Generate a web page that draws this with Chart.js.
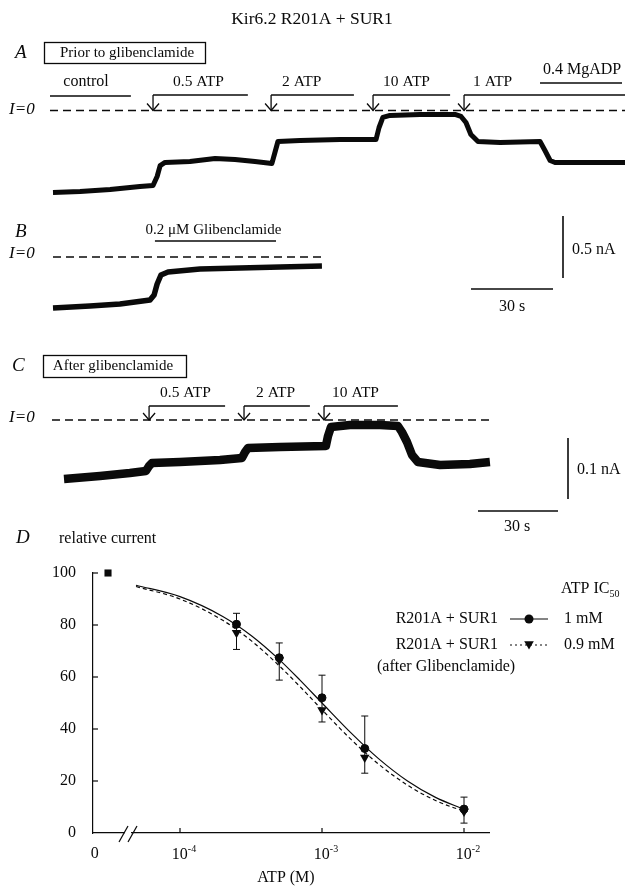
<!DOCTYPE html>
<html><head><meta charset="utf-8">
<script src="https://cdn.jsdelivr.net/npm/chart.js@4.4.0/dist/chart.umd.min.js"></script>
<style>
html,body{margin:0;padding:0;background:#fff;}
body{width:625px;height:888px;position:relative;overflow:hidden;}
canvas{position:absolute;left:0;}
</style></head><body>
<canvas id="cA" width="625" height="200" style="top:0px"></canvas>
<canvas id="cB" width="625" height="120" style="top:200px"></canvas>
<canvas id="cC" width="625" height="225" style="top:320px"></canvas>
<canvas id="cD" width="625" height="368" style="top:520px"></canvas>
<script>
// ================= DATA =================
const titleText = 'Kir6.2 R201A + SUR1';

// Panel A: current trace (time in s, current in nA)
const traceA_t = [0, 9.9, 20.9, 31.8, 36.6, 38.1, 39.2, 41.0, 50.1, 59.3, 66.6, 73.9, 80.1, 81.2, 82.3, 90.4, 105.0, 118.2, 119.3, 120.7, 123.3, 134.3, 147.1, 149.3, 151.1, 152.9, 155.5, 163.6, 178.2, 180.0, 181.9, 183.7, 196.5, 209.3];
const traceA_I = [-0.661, -0.653, -0.637, -0.613, -0.605, -0.532, -0.444, -0.419, -0.411, -0.387, -0.395, -0.411, -0.427, -0.339, -0.250, -0.242, -0.234, -0.234, -0.137, -0.056, -0.040, -0.032, -0.032, -0.048, -0.097, -0.194, -0.250, -0.258, -0.250, -0.323, -0.403, -0.419, -0.419, -0.419];
const solA_labels = ['0.5 ATP', '2 ATP', '10 ATP', '1 ATP'];
const solA_start = [36.6, 79.8, 117.1, 150.4];
const solA_end = [71.3, 110.1, 145.3, 209.3];
const controlA = [-1.1, 28.5];
const mgadpA = [178.2, 208.2];
const zeroA = [-1.1, 209.3];

// Panel B
const traceB_t = [0, 13.5, 24.5, 35.5, 37.0, 38.1, 39.5, 42.1, 53.8, 68.4, 83.1, 98.4];
const traceB_I = [-0.411, -0.395, -0.379, -0.347, -0.306, -0.218, -0.145, -0.121, -0.097, -0.089, -0.081, -0.073];
const glibB = [37.3, 81.6];
const zeroB = [0, 98.4];

// Panel C
const traceC_t = [0, 13.5, 24.7, 30.7, 31.9, 33.0, 43.5, 58.5, 66.7, 67.9, 69.0, 81.0, 98.2, 99.0, 100.1, 107.2, 118.5, 125.2, 126.7, 128.6, 130.5, 132.7, 141.0, 152.2, 159.7];
const traceC_I = [-0.0967, -0.0918, -0.0869, -0.0836, -0.0754, -0.0705, -0.0689, -0.0656, -0.0623, -0.0525, -0.0459, -0.0443, -0.0426, -0.0262, -0.0115, -0.0082, -0.0082, -0.0098, -0.0197, -0.0361, -0.0574, -0.0689, -0.0738, -0.0721, -0.0689];
const solC_labels = ['0.5 ATP', '2 ATP', '10 ATP'];
const solC_start = [31.9, 67.5, 97.5];
const solC_end = [60.4, 92.2, 125.2];
const zeroC = [-4.5, 159.7];

// scale bars
const barTime = 30;        // s
const barCurrentAB = 0.5;  // nA
const barCurrentC = 0.1;   // nA

// Panel D: dose-response
const atpConc = [2.5e-4, 5e-4, 1e-3, 2e-3, 1e-2];            // M
const relBefore = [80.3, 67.4, 52.0, 32.5, 9.2];
const relAfter = [77.0, 66.5, 47.3, 29.0, 8.3];
const errTopBefore = [84.5, 73.1, 60.7, 45.0, 13.8];
const errBottomAfter = [70.6, 58.8, 42.7, 23.0, 3.8];
const controlRel = [100];
const fitConc = [4.9e-5, 1e-4, 2e-4, 3.2e-4, 5e-4, 7e-4, 1e-3, 1.6e-3, 2.5e-3, 4e-3, 6.3e-3, 1e-2];
const fitBefore = [95.3, 90.9, 83.3, 75.8, 66.7, 58.8, 50.0, 38.5, 28.6, 20.0, 13.7, 9.1];
const fitAfter = [94.8, 90.0, 81.8, 73.8, 64.3, 56.3, 47.4, 36.0, 26.5, 18.4, 12.5, 8.3];
const legendNames = ['R201A + SUR1', 'R201A + SUR1'];
const ic50Labels = ['1 mM', '0.9 mM'];
const yTicks = [0, 20, 40, 60, 80, 100];
const xTickExp = [-4, -3, -2];

// ================= LAYOUT / STYLE =================
const FONT = '"Liberation Serif", "Times New Roman", serif';
const INK = '#0a0a0a';
const LA = {x0: 53, pxPerSec: 2.733, yZero: 110.5, pxPerNA: 124, height: 200};
const LB = {x0: 53, pxPerSec: 2.733, yZero: 57, pxPerNA: 124, height: 120};
const LC = {x0: 64, pxPerSec: 2.667, yZero: 100, pxPerNA: 610, height: 225};
const LOG_MIN = -4.6127, LOG_MAX = -1.824;
const ZERO_POINT_X = -4.507, ZERO_LABEL_X = -4.6;

function T(ctx, s, x, y, size, align, style) {
  ctx.font = (style ? style + ' ' : '') + size + 'px ' + FONT;
  ctx.textAlign = align || 'left';
  ctx.textBaseline = 'middle';
  ctx.fillStyle = INK;
  ctx.fillText(s, x, y);
  return ctx.measureText(s).width;
}
function Ln(ctx, x1, y1, x2, y2, w) {
  ctx.lineWidth = w || 1.2; ctx.strokeStyle = INK; ctx.setLineDash([]);
  ctx.beginPath(); ctx.moveTo(x1, y1); ctx.lineTo(x2, y2); ctx.stroke();
}
function bracket(ctx, x1, x2, yb, ytip) {
  Ln(ctx, x1, yb, x2, yb, 1.3);
  Ln(ctx, x1, yb, x1, ytip, 1.3);
  ctx.beginPath(); ctx.moveTo(x1 - 6, ytip - 7); ctx.lineTo(x1, ytip); ctx.lineTo(x1 + 6, ytip - 7); ctx.stroke();
}
const xy = (ts, vs) => ts.map((t, i) => ({x: t, y: vs[i]}));

function traceChart(id, Lay, trace, zero, width, decor) {
  const W = 625, H = Lay.height;
  return new Chart(document.getElementById(id), {
    type: 'line',
    data: {datasets: [
      {data: trace, borderColor: INK, borderWidth: width, pointRadius: 0, tension: 0,
       borderJoinStyle: 'round', borderCapStyle: 'butt'},
      {data: [{x: zero[0], y: 0}, {x: zero[1], y: 0}], borderColor: INK, borderWidth: 1.3,
       borderDash: [8, 5], pointRadius: 0}
    ]},
    options: {
      responsive: false, animation: false, events: [],
      layout: {padding: 0},
      plugins: {legend: {display: false}, tooltip: {enabled: false}},
      scales: {
        x: {type: 'linear', display: false, min: -Lay.x0 / Lay.pxPerSec, max: (W - Lay.x0) / Lay.pxPerSec},
        y: {type: 'linear', display: false, min: (Lay.yZero - H) / Lay.pxPerNA, max: Lay.yZero / Lay.pxPerNA}
      }
    },
    plugins: [{id: 'decor' + id, afterDraw: decor}]
  });
}

// ---------- Panel A ----------
const labOffA = [20, 11, 10, 9];
traceChart('cA', LA, xy(traceA_t, traceA_I), zeroA, 5, (chart) => {
  const ctx = chart.ctx, xs = chart.scales.x, ys = chart.scales.y;
  const y0 = ys.getPixelForValue(0);
  ctx.save();
  T(ctx, titleText, 312, 19, 17.5, 'center');
  T(ctx, 'A', 15, 53, 19, 'left', 'italic');
  ctx.lineWidth = 1.3; ctx.strokeStyle = INK; ctx.strokeRect(44.5, 42.5, 161, 21);
  T(ctx, 'Prior to glibenclamide', 127, 53, 15, 'center');
  T(ctx, 'I=0', 9, y0 - 1, 17, 'left', 'italic');
  const c1 = xs.getPixelForValue(controlA[0]), c2 = xs.getPixelForValue(controlA[1]);
  T(ctx, 'control', 86, 82, 16, 'center');
  Ln(ctx, c1, 96, c2, 96, 1.5);
  solA_labels.forEach((lab, i) => {
    const x1 = xs.getPixelForValue(solA_start[i]), x2 = Math.min(xs.getPixelForValue(solA_end[i]), 625);
    bracket(ctx, x1, x2, 95, y0);
    T(ctx, lab, x1 + labOffA[i], 82, 15.5);
  });
  const m1 = xs.getPixelForValue(mgadpA[0]), m2 = xs.getPixelForValue(mgadpA[1]);
  Ln(ctx, m1, 83, m2, 83, 1.5);
  T(ctx, '0.4 MgADP', (m1 + m2) / 2 + 1, 70, 16, 'center');
  ctx.restore();
});

// ---------- Panel B ----------
traceChart('cB', LB, xy(traceB_t, traceB_I), zeroB, 5.5, (chart) => {
  const ctx = chart.ctx, xs = chart.scales.x, ys = chart.scales.y;
  const y0 = ys.getPixelForValue(0);
  ctx.save();
  T(ctx, 'B', 15, 32, 19, 'left', 'italic');
  T(ctx, 'I=0', 9, y0 - 3, 17, 'left', 'italic');
  const g1 = xs.getPixelForValue(glibB[0]), g2 = xs.getPixelForValue(glibB[1]);
  Ln(ctx, g1, 41, g2, 41, 1.5);
  T(ctx, '0.2 \u03BCM Glibenclamide', (g1 + g2) / 2 - 2, 30, 15, 'center');
  const lenI = Math.abs(ys.getPixelForValue(0) - ys.getPixelForValue(barCurrentAB));
  const lenT = xs.getPixelForValue(barTime) - xs.getPixelForValue(0);
  Ln(ctx, 563, 78, 563, 78 - lenI, 1.6);
  Ln(ctx, 553 - lenT, 89, 553, 89, 1.6);
  T(ctx, barCurrentAB + ' nA', 572, 50, 16);
  T(ctx, barTime + ' s', 553 - lenT / 2, 107, 16, 'center');
  ctx.restore();
});

// ---------- Panel C ----------
const labOffC = [11, 12, 8];
traceChart('cC', LC, xy(traceC_t, traceC_I), zeroC, 8.5, (chart) => {
  const ctx = chart.ctx, xs = chart.scales.x, ys = chart.scales.y;
  const y0 = ys.getPixelForValue(0);
  ctx.save();
  T(ctx, 'C', 12, 46, 19, 'left', 'italic');
  ctx.lineWidth = 1.3; ctx.strokeStyle = INK; ctx.strokeRect(43.5, 35.5, 143, 22);
  T(ctx, 'After glibenclamide', 113, 46, 15, 'center');
  T(ctx, 'I=0', 9, y0 - 2, 17, 'left', 'italic');
  solC_labels.forEach((lab, i) => {
    const x1 = xs.getPixelForValue(solC_start[i]), x2 = xs.getPixelForValue(solC_end[i]);
    bracket(ctx, x1, x2, 86, y0);
    T(ctx, lab, x1 + labOffC[i], 73, 15.5);
  });
  const lenI = Math.abs(ys.getPixelForValue(0) - ys.getPixelForValue(barCurrentC));
  const lenT = xs.getPixelForValue(barTime) - xs.getPixelForValue(0);
  Ln(ctx, 568, 179, 568, 179 - lenI, 1.6);
  Ln(ctx, 558 - lenT, 191, 558, 191, 1.6);
  T(ctx, barCurrentC + ' nA', 577, 150, 16);
  T(ctx, barTime + ' s', 558 - lenT / 2 - 1, 207, 16, 'center');
  ctx.restore();
});

// ---------- Panel D ----------
function drawMarker(ctx, kind, x, y, r) {
  ctx.fillStyle = INK; ctx.beginPath();
  if (kind === 'circle') ctx.arc(x, y, r, 0, Math.PI * 2);
  else { ctx.moveTo(x - r * 0.87, y - r * 0.5); ctx.lineTo(x + r * 0.87, y - r * 0.5); ctx.lineTo(x, y + r); ctx.closePath(); }
  ctx.fill();
}
new Chart(document.getElementById('cD'), {
  type: 'line',
  data: {datasets: [
    {data: [{x: ZERO_POINT_X, y: controlRel[0]}], showLine: false, pointStyle: 'rect', pointRadius: 5,
     pointBackgroundColor: INK, pointBorderColor: INK, pointBorderWidth: 0, clip: false},
    {data: atpConc.map((c, i) => ({x: Math.log10(c), y: relBefore[i]})), showLine: false, pointStyle: 'circle',
     pointRadius: 4, pointBackgroundColor: INK, pointBorderColor: INK, pointBorderWidth: 1, clip: false},
    {data: atpConc.map((c, i) => ({x: Math.log10(c), y: relAfter[i]})), showLine: false, pointStyle: 'triangle',
     pointRotation: 180, pointRadius: 5.5, pointBackgroundColor: INK, pointBorderColor: INK, pointBorderWidth: 0, clip: false},
    {data: fitConc.map((c, i) => ({x: Math.log10(c), y: fitBefore[i]})), borderColor: INK, borderWidth: 1.2,
     pointRadius: 0, cubicInterpolationMode: 'monotone'},
    {data: fitConc.map((c, i) => ({x: Math.log10(c), y: fitAfter[i]})), borderColor: INK, borderWidth: 1.2,
     borderDash: [4, 3], pointRadius: 0, cubicInterpolationMode: 'monotone'}
  ]},
  options: {
    responsive: false, animation: false, events: [],
    layout: {padding: {top: 53, right: 136, left: 0, bottom: 0}},
    plugins: {legend: {display: false}, tooltip: {enabled: false}},
    scales: {
      x: {type: 'linear', min: LOG_MIN, max: LOG_MAX,
          ticks: {display: false},
          grid: {display: true, drawOnChartArea: false, drawTicks: false},
          border: {display: true, color: INK, width: 1.2},
          afterFit: (s) => { s.height = 55; }},
      y: {type: 'linear', min: 0, max: 100,
          afterBuildTicks: (s) => { s.ticks = yTicks.map(v => ({value: v})); },
          ticks: {color: INK, padding: 17, font: {family: FONT, size: 16}},
          grid: {display: true, drawOnChartArea: false, drawTicks: false},
          border: {display: true, color: INK, width: 1.2},
          afterFit: (s) => { s.width = 93; }}
    }
  },
  plugins: [{
    id: 'decorD',
    afterDatasetsDraw(chart) {
      const ctx = chart.ctx, xs = chart.scales.x, ys = chart.scales.y;
      ctx.save();
      atpConc.forEach((c, i) => {
        const px = xs.getPixelForValue(Math.log10(c));
        const yt = ys.getPixelForValue(errTopBefore[i]), yb = ys.getPixelForValue(errBottomAfter[i]);
        Ln(ctx, px, yt, px, yb, 1);
        Ln(ctx, px - 3.5, yt, px + 3.5, yt, 1);
        Ln(ctx, px - 3.5, yb, px + 3.5, yb, 1);
      });
      ctx.restore();
    },
    afterDraw(chart) {
      const ctx = chart.ctx, xs = chart.scales.x, ys = chart.scales.y, ca = chart.chartArea;
      ctx.save();
      yTicks.forEach(v => { if (v === 0) return; const py = ys.getPixelForValue(v); Ln(ctx, ca.left, py, ca.left + 5, py, 1.2); });
      xTickExp.forEach(e => { const px = xs.getPixelForValue(e); Ln(ctx, px, ca.bottom, px, ca.bottom - 5, 1.2); });
      T(ctx, '0', xs.getPixelForValue(ZERO_LABEL_X), 334, 16, 'center');
      xTickExp.forEach(e => {
        ctx.font = '16px ' + FONT; const w1 = ctx.measureText('10').width;
        ctx.font = '10px ' + FONT; const sup = '-' + (-e); const w2 = ctx.measureText(sup).width;
        const start = xs.getPixelForValue(e) + 4 - (w1 + w2) / 2;
        T(ctx, '10', start, 335, 16);
        T(ctx, sup, start + w1, 329, 10);
      });
      ctx.fillStyle = '#fff'; ctx.fillRect(125, ca.bottom - 2, 6, 4);
      Ln(ctx, 119, 322, 128, 306, 1.2);
      Ln(ctx, 128, 322, 137, 306, 1.2);
      T(ctx, 'D', 16, 18, 19, 'left', 'italic');
      T(ctx, 'relative current', 59, 19, 16);
      T(ctx, 'ATP (M)', 286, 358, 16, 'center');
      const w = T(ctx, 'ATP IC', 561, 69, 16);
      T(ctx, '50', 561 + w, 74, 10);
      T(ctx, legendNames[0], 498, 99, 16, 'right');
      Ln(ctx, 510, 99, 548, 99, 1.2);
      drawMarker(ctx, 'circle', 529, 99, 4.5);
      T(ctx, ic50Labels[0], 564, 99, 16);
      T(ctx, legendNames[1], 498, 125, 16, 'right');
      ctx.setLineDash([2, 3]); ctx.lineWidth = 1.2; ctx.strokeStyle = INK;
      ctx.beginPath(); ctx.moveTo(510, 125); ctx.lineTo(548, 125); ctx.stroke(); ctx.setLineDash([]);
      drawMarker(ctx, 'triangle', 529, 124, 5.5);
      T(ctx, ic50Labels[1], 564, 125, 16);
      T(ctx, '(after Glibenclamide)', 377, 147, 16);
      ctx.restore();
    }
  }]
});
</script>
</body></html>
